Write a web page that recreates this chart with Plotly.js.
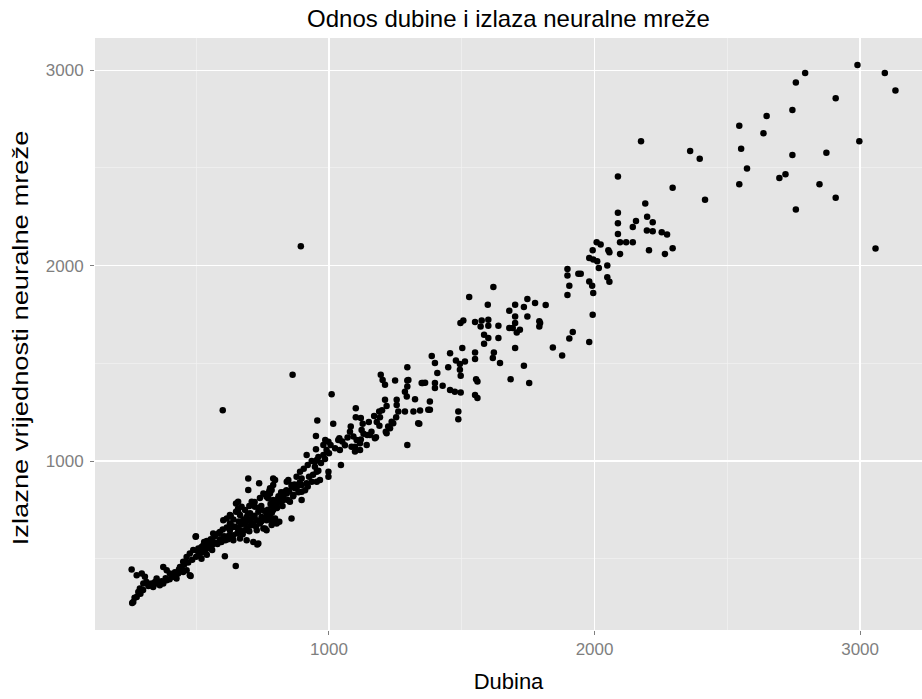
<!DOCTYPE html>
<html>
<head>
<meta charset="utf-8">
<script src="https://cdn.plot.ly/plotly-3.0.1.min.js"></script>
<style>html,body{margin:0;padding:0;background:#fff;}#chart{width:922px;height:699px;}</style>
</head>
<body>
<div id="chart"></div>
<script>
// Depth (Dubina) and network output pairs
const depth = [
2990,3093,3133,2793,2758,2908,2745,2648,2545,2636,2997,2360,2396,2552,2745,2873,2574,2719,2696,2545,2847,2908,2416,2758,3058,2175,2088,2294,
2191,2088,2088,2198,2156,2144,2219,2197,2219,2253,2273,2088,2096,2119,2144,2008,2023,1993,2052,2056,2096,2205,2265,2294,1980,1995,2010,2016,2048,1898,1898,1939,1948,2048,2056,1980,1991,1995,1905,1898,1816,1795,1993,1918,1905,1980,1843,1878,
1619,1528,1598,1747,1776,1701,1679,1734,1747,1701,1701,1692,1679,1719,1707,1792,1792,
1495,1506,1550,1575,1600,1571,1600,1638,1584,1600,1638,1584,1502,1701,1456,1550,1550,1621,1617,1644,1387,1399,1478,1493,1512,1493,1496,1449,1408,1734,1684,1754,1554,1559,1349,1399,1399,1428,1456,1474,1496,1550,1559,1380,1362,1487,1487,
863,1010,1101,1101,956,1016,1127,1082,1079,1092,1104,1117,1098,1085,1098,1117,1142,1144,1177,1123,951,1039,979,998,1006,1023,1041,991,979,951,916,947,947,954,998,998,1045,891,878,
1195,1202,1211,1249,1295,1295,1295,1286,1293,1324,1353,1211,1217,1189,1192,1255,1255,1261,1286,1318,1343,1380,1253,1242,1230,1217,1340,1295,
1154,1173,1299,1374,1336,1236,1223,1214,954,986,1035,894,600,
897,897,897,897,916,935,954,966,847,859,872,866,853,797,790,784,696,696,737,753,771,784,809,822,834,815,828,709,721,734,746,765,658,671,684,658,690,703,715,615,602,627,784,797,813,803,859,753,765,499,564,589,627,646,665,690,728,
790,778,778,765,841,803,790,778,765,828,841,712,650,658,703,715,728,740,665,677,627,640,790,784,759,615,640,665,690,715,734,658,684,
257,276,295,307,263,276,282,288,301,313,332,345,351,338,376,389,401,414,426,363,376,389,439,451,464,476,489,508,527,545,564,589,476,451,464,432,498,608,649,730,479,259,
268,290,300,320,340,355,370,385,400,410,420,435,445,455,470,485,500,510,520,535,550,560,575,590,605,
520,540,555,570,585,600,615,630,545,560,580,595,610,625,640,655,620,520,540,505,530,
660,670,680,695,705,720,735,745,755,770,780,790,800,810,820,830,840,850,860,870,880,890,700,720,740,760,775,685,705,725,745,765,785,805,825,845,865,885,675,700,655,640,630,650,
905,920,935,960,970,985,1000,925,940,960,910,920,
1050,1060,1070,1120,1130,1160,1180,1190,1200,1170,1150,1120
];
const output = [
3027,2986,2896,2986,2937,2856,2797,2766,2716,2677,2637,2586,2547,2598,2566,2578,2497,2468,2448,2417,2417,2347,2337,2287,2087,2636,2456,2398,
2318,2270,2217,2250,2229,2198,2222,2180,2176,2171,2159,2162,2120,2120,2120,2120,2108,2079,2079,2068,2060,2079,2060,2089,2039,2031,2022,1988,2000,1983,1949,1959,1959,1940,1918,1919,1897,1860,1897,1850,1798,1706,1749,1660,1627,1609,1581,1540,
1891,1840,1800,1829,1809,1800,1769,1788,1740,1740,1706,1681,1681,1672,1658,1715,1689,
1706,1719,1711,1719,1723,1689,1692,1692,1646,1629,1629,1600,1578,1578,1552,1555,1522,1555,1527,1501,1538,1501,1514,1497,1509,1467,1436,1480,1450,1487,1419,1399,1419,1407,1399,1399,1373,1385,1364,1355,1350,1338,1322,1304,1401,1253,1214,
1441,1342,1270,1224,1207,1190,1190,1176,1150,1125,1108,1091,1073,1073,1048,1056,1082,1133,1122,1159,1128,1116,1082,1099,1082,1065,1056,1056,1031,1060,1031,996,971,945,945,919,979,945,919,
1441,1415,1390,1412,1480,1412,1381,1355,1330,1316,1399,1313,1282,1253,1224,1313,1287,1253,1253,1253,1258,1262,1224,1193,1168,1142,1190,1082,
1133,1116,1415,1262,1193,1201,1176,1150,1005,1108,1108,2099,1260,
911,877,843,800,886,894,894,903,903,877,860,826,791,903,877,851,911,851,886,834,809,774,809,826,843,791,800,791,766,740,714,697,791,766,749,740,714,697,680,706,697,723,697,706,689,680,706,655,646,615,629,637,646,663,646,655,646,
911,860,834,817,894,774,749,723,706,817,834,783,783,757,732,714,697,680,723,697,680,663,689,672,655,612,595,603,595,586,578,637,646,
445,415,424,407,278,304,330,347,373,381,373,381,398,355,458,441,424,407,398,364,373,390,458,484,509,527,544,552,569,578,586,595,415,432,441,424,612,513,463,573,412,273,
300,320,340,360,365,375,385,400,395,415,430,445,455,470,480,495,510,525,530,545,555,570,580,600,615,
560,590,600,615,630,650,660,675,570,545,575,585,595,620,620,630,600,500,520,540,585,
690,675,700,730,700,720,760,770,745,750,780,800,790,820,840,830,850,845,870,880,870,890,770,790,810,830,845,680,670,665,690,725,735,760,770,800,820,840,625,640,660,700,720,740,
960,980,1000,1020,990,1010,1040,920,930,950,850,870,
1100,1080,1120,1110,1140,1150,1200,1180,1260,1230,1200,1220
];
const xTicks = [1000, 2000, 3000];
const yTicks = [1000, 2000, 3000];
const chartTitle = 'Odnos dubine i izlaza neuralne mreže';
const xLabel = 'Dubina';
const yLabel = 'Izlazne vrijednosti neuralne mreže';

const font = 'Liberation Sans, Arial, sans-serif';
const axisCommon = {
  ticks: 'outside', ticklen: 4, tickwidth: 1, tickcolor: '#7F7F7F',
  tickfont: {family: font, size: 17, color: '#7F7F7F'},
  showgrid: true, gridcolor: '#FFFFFF', gridwidth: 1.4,
  zeroline: false, showline: false,
  minor: {dtick: 500, tick0: 0, showgrid: true, gridcolor: '#F2F2F2', gridwidth: 0.7, ticks: ''}
};

Plotly.newPlot('chart', [{
  x: depth, y: output, type: 'scatter', mode: 'markers',
  marker: {color: '#000000', size: 6.5, line: {width: 0}},
  hoverinfo: 'x+y'
}], {
  width: 922, height: 699,
  margin: {l: 95, r: 0, t: 38, b: 69, pad: 0},
  paper_bgcolor: '#FFFFFF', plot_bgcolor: '#E5E5E5',
  showlegend: false,
  title: {text: chartTitle, font: {family: font, size: 24, color: '#000'}, xref: 'paper', x: 0.5, xanchor: 'center', yref: 'container', y: 1 - 19/699, yanchor: 'middle'},
  xaxis: Object.assign({}, axisCommon, {range: [119, 3233], tickvals: xTicks, ticktext: xTicks.map(String),
    title: {text: xLabel, font: {family: font, size: 22, color: '#000'}, standoff: 15}}),
  yaxis: Object.assign({}, axisCommon, {range: [135, 3165], tickvals: yTicks, ticktext: yTicks.map(String),
    ticklabelstandoff: 3,
    title: {text: yLabel, font: {family: font, size: 22, color: '#000'}, standoff: 14}})
}, {displayModeBar: false, staticPlot: true}).then(function () {
  // stretch the y-axis title along its length to match the reference extent
  const el = document.querySelector('#chart .ytitle');
  if (!el) return;
  const root = document.getElementById('chart').getBoundingClientRect();
  const r = el.getBoundingClientRect();
  const cx = r.left + r.width / 2 - root.left;
  const cy = r.top + r.height / 2 - root.top;
  const s = 415 / r.height;
  const tx = 21, ty = 338;
  el.setAttribute('transform', 'translate(' + tx + ',' + ty + ') scale(1,' + s + ') translate(' + (-cx) + ',' + (-cy) + ') ' + (el.getAttribute('transform') || ''));
});
</script>
</body>
</html>
